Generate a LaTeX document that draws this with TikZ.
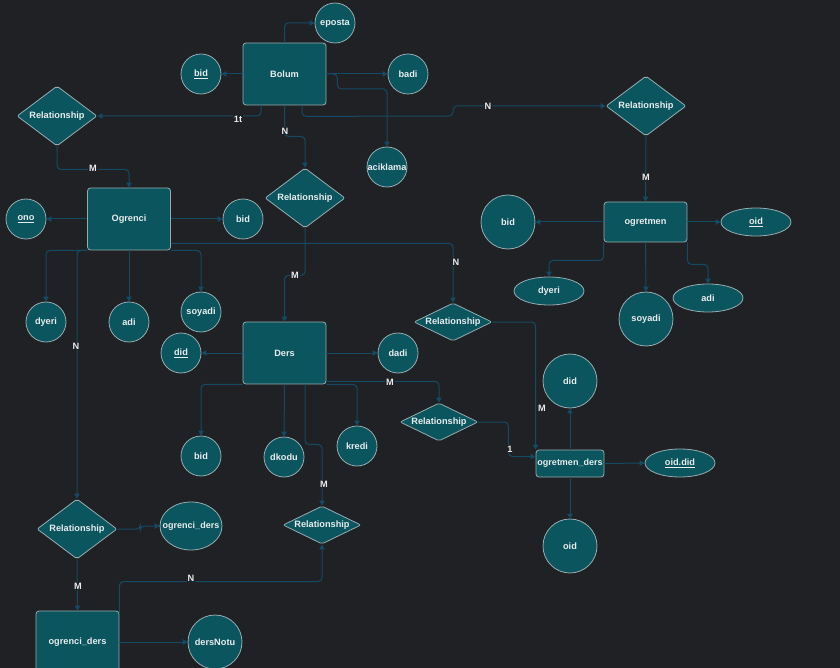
\documentclass[tikz,border=0pt]{standalone}
\usepackage{fontspec}
\setmainfont{Liberation Sans}
\usetikzlibrary{shapes.geometric,arrows.meta}
\definecolor{bg}{RGB}{32,33,36}
\definecolor{fillc}{RGB}{11,85,94}
\definecolor{edgec}{RGB}{150,172,176}
\definecolor{linkc}{RGB}{20,74,102}
\definecolor{txt}{RGB}{232,236,238}
\begin{document}
\begin{tikzpicture}[x=1pt,y=-1pt,
  base/.style={draw=edgec, line width=0.8pt, fill=fillc, text=txt,
    font=\fontsize{9.2}{11}\selectfont\bfseries, inner sep=0pt},
  tight/.style={font=\fontsize{9}{11}\selectfont\bfseries},
  entity/.style={base, rectangle, rounded corners=3pt, minimum width=83pt, minimum height=62pt},
  smallentity/.style={base, rectangle, rounded corners=3pt, minimum width=83pt, minimum height=40pt},
  attr/.style={base, circle, minimum size=40pt},
  bigattr/.style={base, circle, minimum size=54pt},
  oval/.style={base, ellipse, minimum width=70pt, minimum height=28pt},
  rel/.style={base, diamond, rounded corners=2pt, aspect=1.33, minimum width=80pt, minimum height=60pt},
  flatrel/.style={base, diamond, rounded corners=2pt, aspect=2.05, minimum width=78pt, minimum height=38pt},
  link/.style={draw=linkc, line width=1pt, rounded corners=4pt, -{Triangle[width=5.5pt,length=5pt]}},
  card/.style={fill=bg, text=txt, font=\fontsize{9.2}{11}\selectfont\bfseries, inner sep=1pt}
]
\fill[bg] (0,0) rectangle (840,668);
\useasboundingbox (0,0) rectangle (840,668);
\clip (0,0) rectangle (840,668);

% Bolum and its attributes
\node[entity] (bolum) at (284.5,74) {Bolum};
\node[attr] (eposta) at (335,23) {eposta};
\node[attr] (bidB) at (201,74) {\underline{bid}};
\node[attr] (badi) at (408,74) {badi};
\node[attr] (aciklama) at (387,167) {\makebox[0pt]{aciklama}};

% relationships around Bolum
\node[rel] (relL) at (57,116) {Relationship};
\node[rel] (relC) at (305,198) {Relationship};
\node[rel] (relR) at (646,106) {Relationship};

% Ogrenci
\node[entity] (ogrenci) at (129,219) {Ogrenci};
\node[attr] (ono) at (26,219) {\underline{ono}};
\node[attr] (bidO) at (243,219) {bid};
\node[attr] (dyeriO) at (46,322) {dyeri};
\node[attr] (adiO) at (129,322) {adi};
\node[attr] (soyadiO) at (201,312) {soyadi};

% ogretmen
\node[smallentity] (ogretmen) at (645.5,222) {ogretmen};
\node[bigattr] (bidT) at (508,222) {bid};
\node[oval] (oidT) at (756,222) {\underline{oid}};
\node[oval] (dyeriT) at (549,291) {dyeri};
\node[bigattr] (soyadiT) at (646,319) {soyadi};
\node[oval] (adiT) at (708,298) {adi};

% Ders
\node[entity] (ders) at (284.5,353) {Ders};
\node[attr] (didD) at (181,353) {\underline{did}};
\node[attr] (dadi) at (398,353) {dadi};
\node[attr] (bidD) at (201,456) {bid};
\node[attr] (dkodu) at (284,457) {dkodu};
\node[attr] (kredi) at (357,446) {kredi};

\node[flatrel] (relM) at (453,322) {Relationship};
\node[flatrel] (relD) at (439,422) {Relationship};
\node[flatrel] (relB) at (322,525) {Relationship};

% ogretmen_ders
\node[base, tight, rectangle, rounded corners=3pt, minimum width=68pt, minimum height=27pt] (od) at (570,463.5) {\makebox[0pt]{ogretmen\_ders}};
\node[bigattr] (didOD) at (570,381) {did};
\node[oval] (oidd) at (680,463) {\underline{oid.did}};
\node[bigattr] (oidOD) at (570,546) {oid};

% ogrenci_ders
\node[rel] (relLL) at (77,529) {Relationship};
\node[base, tight, ellipse, minimum width=62pt, minimum height=48pt] (odA) at (191,526) {\makebox[0pt]{ogrenci\_ders}};
\node[entity] (odR) at (77.5,642) {ogrenci\_ders};
\node[bigattr] (notu) at (215,642) {dersNotu};

% connectors from Bolum
\draw[link] (bolum.north) |- (eposta.west);
\draw[link] (bolum.west) -- (bidB.east);
\draw[link] (bolum.east) -- (badi.west);
\draw[link] (bolum.east) -- ++(11,0) -- ++(0,15) -| (aciklama.north);
\draw[link] ([xshift=-23.5pt]bolum.south) |- (relL.east);
\draw[link] (bolum.south) -- ++(0,31) -| (relC.north);
\draw[link] ([xshift=17.5pt]bolum.south) -- ++(0,11) -- (453,116) |- (relR.west);

% connectors from Ogrenci
\draw[link] (relL.south) -- ++(0,23) -| (ogrenci.north);
\draw[link] (ogrenci.west) -- (ono.east);
\draw[link] (ogrenci.east) -- (bidO.west);
\draw[link] (ogrenci.south west) -| (dyeriO.north);
\draw[link] (ogrenci.south) -- (adiO.north);
\draw[link] (ogrenci.south east) -| (soyadiO.north);
\draw[link] (ogrenci.south west) -| (relLL.north);
\draw[link] ([yshift=7pt]ogrenci.south east) -| (relM.north);

% connectors from ogretmen
\draw[link] (relR.south) -- (ogretmen.north);
\draw[link] (ogretmen.west) -- (bidT.east);
\draw[link] (ogretmen.east) -- (oidT.west);
\draw[link] (ogretmen.south west) -- ++(0,18) -| (dyeriT.north);
\draw[link] (ogretmen.south) -- (soyadiT.north);
\draw[link] (ogretmen.south east) -- ++(0,22) -| (adiT.north);

% connectors from Ders
\draw[link] (relC.south) -- ++(0,47) -| (ders.north);
\draw[link] (ders.west) -- (didD.east);
\draw[link] (ders.east) -- (dadi.west);
\draw[link] (ders.south west) -| (bidD.north);
\draw[link] (ders.south) -- (dkodu.north);
\draw[link] (ders.south east) -| (kredi.north);
\draw[link] ([yshift=3pt]ders.south east) -| (relD.north);
\draw[link] ([xshift=20.5pt]ders.south) -- ++(0,60) -| (relB.north);

% connectors of ogretmen_ders
\draw[link] (relM.east) -| (od.north west);
\draw[link] (relD.east) -- ++(30,0) |- ([yshift=7pt]od.west);
\draw[link] (od.north) -- (didOD.south);
\draw[link] (od.east) -- (oidd.west);
\draw[link] (od.south) -- (oidOD.north);

% connectors of ogrenci_ders
\draw[link] (relLL.east) -- ++(23,0) |- (odA.west);
\draw[link] (relLL.south) -- (odR.north);
\draw[link] ([yshift=-2pt]odR.north east) -- ++(0,-31) -| (relB.south);
\draw[link] (odR.east) -- (notu.west);

% cardinality labels
\node[card] (c1t) at (238,119) {1t};
\node[card] (cN1) at (285,131) {N};
\node[card] (cN2) at (488,106) {N};
\node[card] (cM1) at (93,168) {M};
\node[card] (cM2) at (646,177) {M};
\node[card] (cM3) at (295,275) {M};
\node[card] (cN3) at (456,262) {N};
\node[card] (cN4) at (76,346) {N};
\node[card] (cM4) at (390,382) {M};
\node[card] (cM5) at (542,408) {M};
\node[card] (c1) at (510,449) {1};
\node[card] (cM6) at (324,484) {M};
\node[card] (cM7) at (78,586) {M};
\node[card] (cN5) at (191,578) {N};
\end{tikzpicture}
\end{document}
